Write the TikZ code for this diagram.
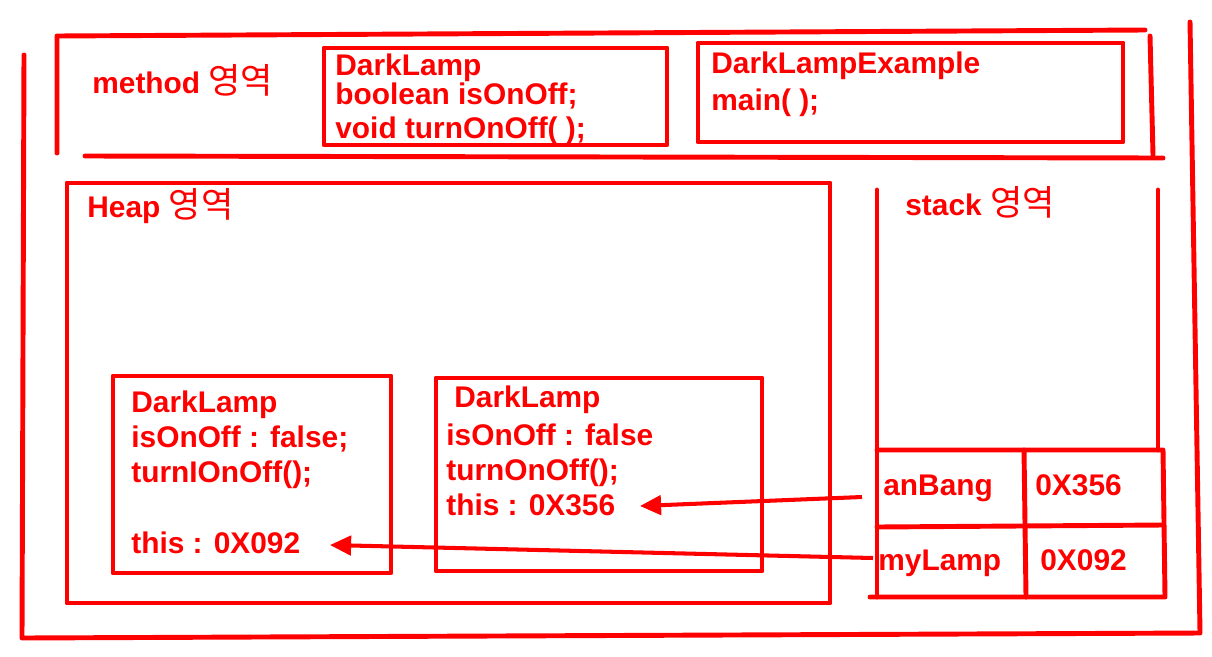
\documentclass[tikz,border=0pt]{standalone}
\usepackage{fontspec}
\setmainfont{Liberation Sans}
\newfontfamily\kr{Noto Sans CJK KR}
\usetikzlibrary{arrows.meta}
\definecolor{mred}{RGB}{255,0,0}
\newcommand{\yeok}{{\kr\mdseries\fontsize{20}{22}\selectfont 영역}}
\begin{document}
\begin{tikzpicture}[x=0.02cm,y=-0.02cm,
  frame/.style={draw=mred,line width=2.8pt,line cap=round,line join=round},
  txt/.style={anchor=base west,inner sep=0pt,text=mred,font=\fontsize{17}{20}\selectfont\bfseries},
  arr/.style={draw=mred,line width=2.3pt,-{Triangle[length=12pt,width=11pt]}}]
\useasboundingbox (0,0) rectangle (1212,656);
% outer frame (open at top)
\draw[frame] (24,55) -- (22,638) -- (1200,633) -- (1190,22);
% method area
\draw[frame] (57,153) -- (57,36) -- (1145,30);
\draw[frame] (1150,36) -- (1153,155);
\draw[frame] (85,156) -- (1163,158);
\node[txt] (method) at (92,93) {method \yeok};
\draw[frame] (324,48) rectangle (667,145);
\node[txt] (m1) at (335,75) {DarkLamp};
\node[txt] (m2) at (335,104) {boolean isOnOff;};
\node[txt] (m3) at (335,138) {void turnOnOff( );};
\draw[frame] (698,43) rectangle (1123,142);
\node[txt] (e1) at (711,73) {DarkLampExample};
\node[txt] (e2) at (711,110) {main( );};
% heap area
\draw[frame] (67,183) rectangle (830,603);
\node[txt] (heap) at (87,217) {Heap \yeok};
\draw[frame] (113,376) rectangle (391,573);
\node[txt] (o1a) at (131,412) {DarkLamp};
\node[txt] (o1b) at (131,447) {isOnOff : false;};
\node[txt] (o1c) at (131,482) {turnIOnOff();};
\node[txt] (this092) at (131,553) {this : 0X092};
\draw[frame] (436,378) rectangle (762,571);
\node[txt] (o2a) at (454,407) {DarkLamp};
\node[txt] (o2b) at (446,445) {isOnOff : false};
\node[txt] (o2c) at (446,480) {turnOnOff();};
\node[txt] (this356) at (446,515) {this : 0X356};
% stack area
\draw[frame] (877,190) -- (877,597);
\draw[frame] (1158,190) -- (1158,450);
\node[txt] (stack) at (905,215) {stack \yeok};
\draw[frame] (877,450) -- (1163,450) -- (1165,597) -- (870,597);
\draw[frame] (877,527) -- (1163,525);
\draw[frame] (1024,450) -- (1026,597);
\node[txt] (anbang) at (883,495) {anBang};
\node[txt] (v356) at (1035,495) {0X356};
\node[txt] (mylamp) at (878,570) {myLamp};
\node[txt] (v092) at (1040,570) {0X092};
% references
\coordinate (s1) at (862,497);
\coordinate (t1) at (640,506);
\coordinate (s2) at (873,558);
\coordinate (t2) at (330,545);
\draw[arr] (s1) -- (t1);
\draw[arr] (s2) -- (t2);
\end{tikzpicture}
\end{document}
